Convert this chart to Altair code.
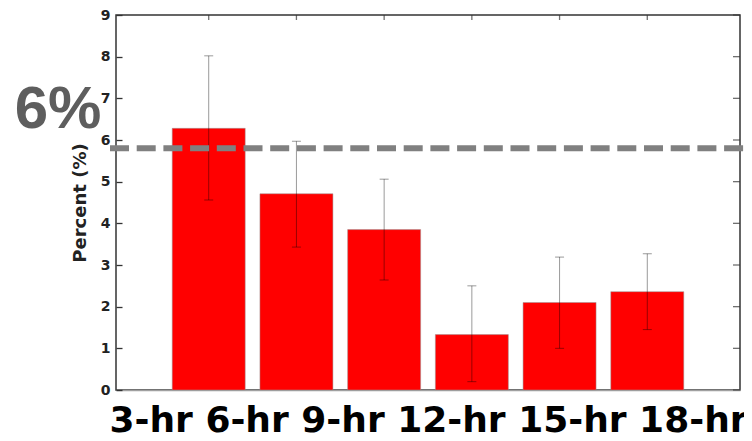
import altair as alt
import pandas as pd

labels = ["3-hr", "6-hr", "9-hr", "12-hr", "15-hr", "18-hr"]
values = [6.28, 4.71, 3.85, 1.33, 2.10, 2.36]
err_hi = [8.02, 5.97, 5.06, 2.50, 3.19, 3.27]
err_lo = [4.56, 3.43, 2.64, 0.20, 1.00, 1.45]
threshold = 5.8
threshold_label = "6%"
y_ticks = [0, 1, 2, 3, 4, 5, 6, 7, 8, 9]

positions = list(range(1, len(labels) + 1))
df = pd.DataFrame({"pos": positions, "label": labels, "value": values,
                   "hi": err_hi, "lo": err_lo})
ytick_df = pd.DataFrame({"v": y_ticks})

W, H = 624, 375
xscale = alt.Scale(domain=[0, len(labels) + 1], nice=False, zero=False)
yscale = alt.Scale(domain=[0, 9], nice=False)
BOLD = "DejaVu Sans"
FRAME = "#333333"

bars = alt.Chart(df).mark_bar(size=73, color="#ff0000", stroke="#999999",
                              strokeWidth=1, strokeOpacity=0.5).encode(
    x=alt.X("pos:Q", scale=xscale,
            axis=alt.Axis(orient="bottom", labels=False, ticks=False, grid=False,
                          domain=True, domainColor="#a0a0a0", domainWidth=1.6,
                          title=" ".join(labels), titleFont=BOLD, titleFontWeight="bold",
                          titleFontSize=36, titleColor="#000000", titlePadding=13)),
    y=alt.Y("value:Q", scale=yscale,
            axis=alt.Axis(orient="left", values=y_ticks, ticks=True,
                          tickSize=alt.ExprRef(expr="-6"),
                          tickColor=FRAME, tickWidth=1.3, domain=False, grid=False,
                          labelFont=BOLD, labelFontWeight="bold", labelFontSize=14,
                          labelColor="#222222", labelPadding=12,
                          title="Percent (%)", titleFont=BOLD, titleFontWeight="bold",
                          titleFontSize=18, titleColor="#222222", titlePadding=11)),
)

err = alt.Chart(df).mark_rule(color="#000000", opacity=0.4, strokeWidth=1).encode(
    x=alt.X("pos:Q", scale=xscale),
    y=alt.Y("lo:Q", scale=yscale),
    y2="hi:Q",
)

cap_hi = alt.Chart(df).mark_tick(color="#000000", opacity=0.4, size=9, thickness=1,
                                 orient="horizontal").encode(
    x=alt.X("pos:Q", scale=xscale),
    y=alt.Y("hi:Q", scale=yscale),
)
cap_lo = alt.Chart(df).mark_tick(color="#000000", opacity=0.4, size=9, thickness=1,
                                 orient="horizontal").encode(
    x=alt.X("pos:Q", scale=xscale),
    y=alt.Y("lo:Q", scale=yscale),
)

# inward ticks on the top edge (at the bar positions) and on the right edge
top_ticks = alt.Chart(df).mark_tick(color=FRAME, size=5, thickness=1.3,
                                    orient="vertical").encode(
    x=alt.X("pos:Q", scale=xscale),
    y=alt.value(2.5),
)
right_ticks = alt.Chart(ytick_df).mark_tick(color=FRAME, size=7, thickness=1.3,
                                            orient="horizontal").encode(
    y=alt.Y("v:Q", scale=yscale),
    x=alt.value(W - 3.5),
)

dash = alt.Chart(pd.DataFrame({"t": [threshold]})).mark_rule(
    color="#808080", strokeWidth=6, strokeDash=[19, 7.7]).encode(
    y=alt.Y("t:Q", scale=yscale),
    x=alt.value(-6), x2=alt.value(W + 16),
)

txt = alt.Chart(pd.DataFrame({"t": [threshold], "s": [threshold_label]})).mark_text(
    font="Liberation Sans", fontWeight="bold", fontSize=60, color="#5e5e5e",
    align="center", baseline="alphabetic", dy=-20).encode(
    y=alt.Y("t:Q", scale=yscale),
    x=alt.value(-58),
    text="s:N",
)

chart = alt.layer(bars, err, cap_hi, cap_lo, top_ticks, right_ticks, dash, txt).properties(
    width=W, height=H,
    autosize=alt.AutoSizeParams(type="none"),
    padding={"left": 108, "top": 7, "right": 4, "bottom": 43},
).configure_view(stroke=FRAME, strokeWidth=1.5)

chart.save("out.html", embed_options={"renderer": "svg", "actions": False})
